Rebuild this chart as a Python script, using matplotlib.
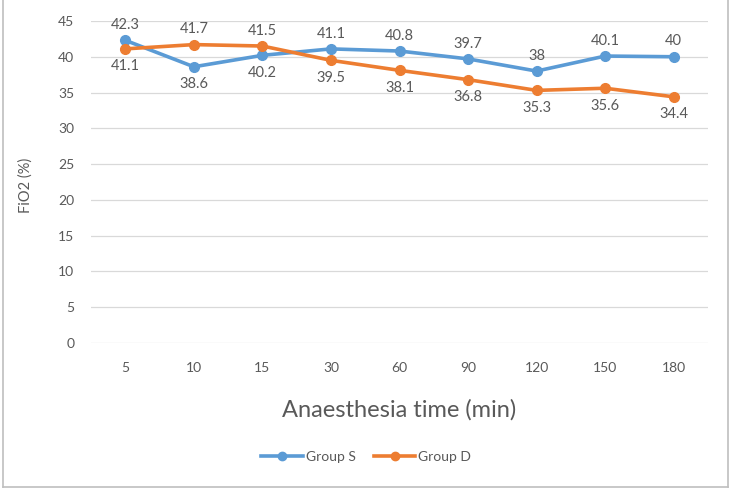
import matplotlib.pyplot as plt
from matplotlib.lines import Line2D

times = ['5', '10', '15', '30', '60', '90', '120', '150', '180']
group_s = [42.3, 38.6, 40.2, 41.1, 40.8, 39.7, 38, 40.1, 40]
group_d = [41.1, 41.7, 41.5, 39.5, 38.1, 36.8, 35.3, 35.6, 34.4]

plt.rcParams['font.family'] = ['Lato', 'DejaVu Sans']
grey = '#595959'
blue = '#5B9BD5'
orange = '#ED7D31'

fig = plt.figure(figsize=(7.34, 4.96), dpi=100)
ax = fig.add_axes([0.124, 0.3085, 0.8406, 0.6492])

x = range(len(times))
ax.plot(x, group_s, color=blue, lw=2.6, marker='o', ms=7, label='Group S', zorder=3)
ax.plot(x, group_d, color=orange, lw=2.6, marker='o', ms=7, label='Group D', zorder=3)

up, down = 11, -12.5
for i, (s, d) in enumerate(zip(group_s, group_d)):
    s_up = s >= d
    ax.annotate(f'{s:g}', (i, s), xytext=(0, up if s_up else down), textcoords='offset points',
                ha='center', va='center', fontsize=10.5, color=grey)
    ax.annotate(f'{d:g}', (i, d), xytext=(0, down if s_up else up), textcoords='offset points',
                ha='center', va='center', fontsize=10.5, color=grey)

ax.set_xlim(-0.5, len(times) - 0.5)
ax.set_ylim(0, 45)
ax.set_yticks(range(0, 46, 5))
ax.set_xticks(list(x))
ax.set_xticklabels(times)
ax.grid(axis='y', color='#D9D9D9', lw=0.9)
ax.set_axisbelow(True)
for sp in ax.spines.values():
    sp.set_visible(False)
ax.tick_params(length=0, colors=grey, labelsize=10)
ax.tick_params(axis='x', pad=14)
ax.tick_params(axis='y', pad=12)

ax.set_xlabel('Anaesthesia time (min)', fontsize=17, color=grey, labelpad=18)
fig.text(0.035, 0.627, 'FiO2 (%)', rotation=90, ha='center', va='center', fontsize=10.5, color=grey)

handles = [Line2D([], [], color=blue, lw=2.6, marker='o', ms=6),
           Line2D([], [], color=orange, lw=2.6, marker='o', ms=6)]
fig.legend(handles, ['Group S', 'Group D'], loc='center', bbox_to_anchor=(0.499, 0.079),
           ncol=2, frameon=False, fontsize=10, labelcolor=grey, handlelength=3.0,
           handletextpad=0.2, columnspacing=1.3)

# outer chart border
border = dict(color='#BFBFBF', lw=1.2, transform=fig.transFigure)
fig.add_artist(Line2D([0.004, 0.004], [0.018, 1.0], **border))
fig.add_artist(Line2D([0.992, 0.992], [0.018, 1.0], **border))
fig.add_artist(Line2D([0.004, 0.992], [0.018, 0.018], **border))

fig.savefig('out.png', dpi=100)
